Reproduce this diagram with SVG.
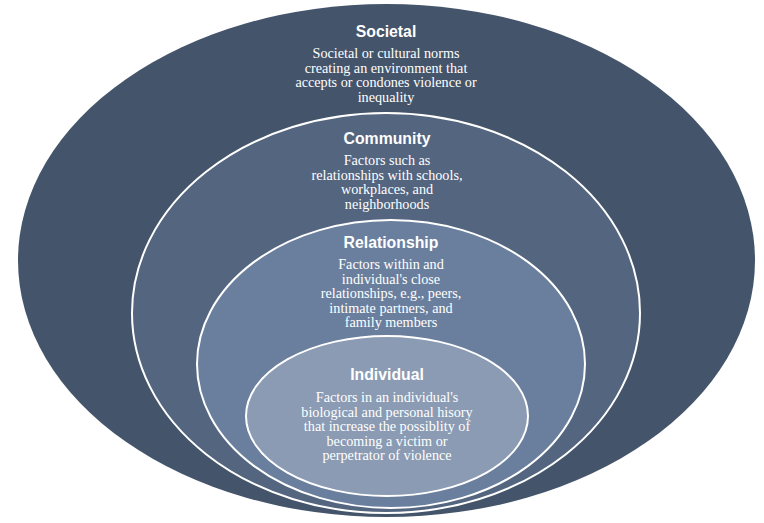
<svg xmlns="http://www.w3.org/2000/svg" width="764" height="523" viewBox="0 0 764 523">
<style>
.ring{stroke:#ffffff;stroke-width:2}
.t{font-family:"Liberation Sans",Arial,sans-serif;font-weight:bold;font-size:15.8px;fill:#ffffff;text-anchor:middle}
.b{font-family:"Liberation Serif","Times New Roman",serif;font-size:14.2px;fill:#ffffff;text-anchor:middle}
</style>
<rect width="764" height="523" fill="#ffffff"/>
<g id="societal">
<ellipse cx="386.5" cy="260.5" rx="368.5" ry="256.5" fill="#44546A"/>
<text class="t" x="386" y="37">Societal</text>
<text class="b" x="386" y="58">Societal or cultural norms</text>
<text class="b" x="386" y="72.7">creating an environment that</text>
<text class="b" x="386" y="87.4">accepts or condones violence or</text>
<text class="b" x="386" y="102.1">inequality</text>
</g>
<g id="community">
<ellipse class="ring" cx="386" cy="313" rx="254" ry="200" fill="#53657F"/>
<text class="t" x="387" y="144">Community</text>
<text class="b" x="387" y="165">Factors such as</text>
<text class="b" x="387" y="179.5">relationships with schools,</text>
<text class="b" x="387" y="194">workplaces, and</text>
<text class="b" x="387" y="208.5">neighborhoods</text>
</g>
<g id="relationship">
<ellipse class="ring" cx="391" cy="364" rx="194" ry="144" fill="#6A7F9E"/>
<text class="t" x="391" y="248">Relationship</text>
<text class="b" x="391" y="269">Factors within and</text>
<text class="b" x="391" y="283.5">individual's close</text>
<text class="b" x="391" y="298">relationships, e.g., peers,</text>
<text class="b" x="391" y="312.5">intimate partners, and</text>
<text class="b" x="391" y="327">family members</text>
</g>
<g id="individual">
<ellipse class="ring" cx="387" cy="416" rx="141" ry="80" fill="#8A9BB3"/>
<text class="t" x="387" y="380">Individual</text>
<text class="b" x="387" y="402">Factors in an individual's</text>
<text class="b" x="387" y="416.5">biological and personal hisory</text>
<text class="b" x="387" y="431">that increase the possiblity of</text>
<text class="b" x="387" y="445.5">becoming a victim or</text>
<text class="b" x="387" y="460">perpetrator of violence</text>
</g>
<g id="connectors"></g>
</svg>
